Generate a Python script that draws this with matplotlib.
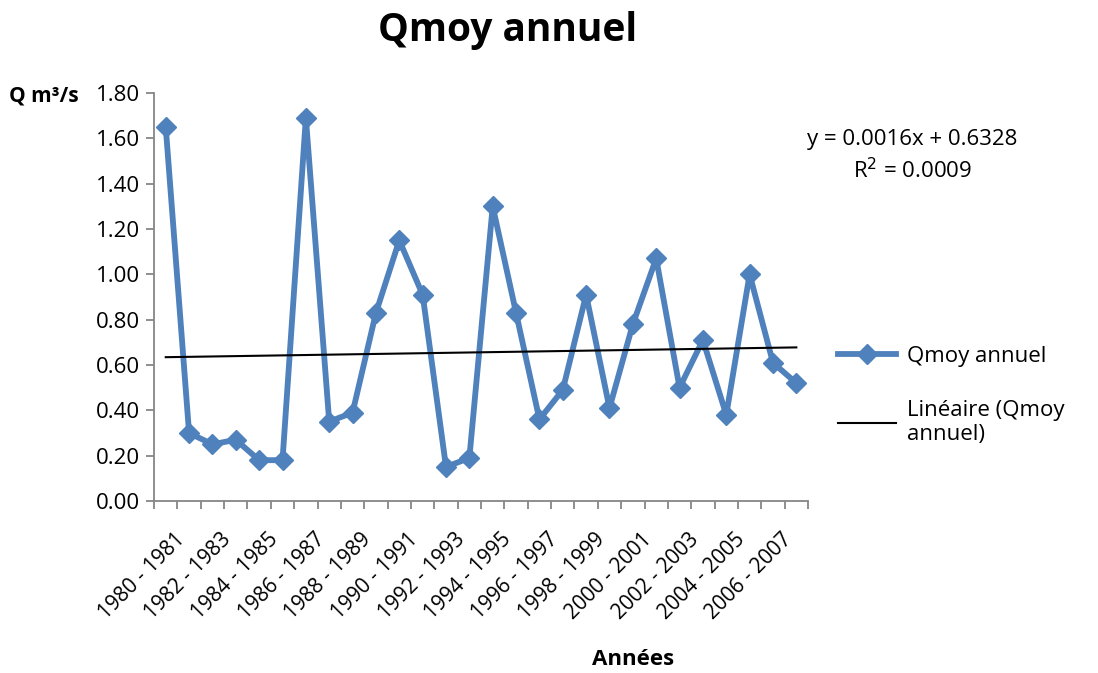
import numpy as np
import matplotlib.pyplot as plt
import matplotlib.transforms as mtransforms

# Data
years = [f"{y} - {y + 1}" for y in range(1980, 2008)]
qmoy = [1.65, 0.30, 0.25, 0.27, 0.18, 0.18, 1.69, 0.35, 0.39, 0.83,
        1.15, 0.91, 0.15, 0.19, 1.30, 0.83, 0.36, 0.49, 0.91, 0.41,
        0.78, 1.07, 0.50, 0.71, 0.38, 1.00, 0.61, 0.52]
trend_slope = 0.0016
trend_intercept = 0.6328
r2 = 0.0009

plt.rcParams['font.family'] = ['Open Sans', 'DejaVu Sans']

fig = plt.figure(figsize=(10.98, 6.73), dpi=100)
ax = fig.add_axes([0.1403, 0.2556, 0.5956, 0.6062])

x = np.arange(1, len(qmoy) + 1)
line_q, = ax.plot(x, qmoy, color='#4F81BD', linewidth=4.2, marker='D',
                  markersize=10, label='Qmoy annuel')
trend = trend_slope * x + trend_intercept
line_t, = ax.plot(x, trend, color='black', linewidth=1.5,
                  label='Linéaire (Qmoy\nannuel)')

# Axes styling (Excel-like)
ax.set_xlim(0.5, len(qmoy) + 0.5)
ax.set_ylim(0, 1.8)
ax.set_yticks(np.arange(0, 1.81, 0.2))
ax.set_yticklabels([f"{v:.2f}" for v in np.arange(0, 1.81, 0.2)], fontsize=16)
for s in ['top', 'right']:
    ax.spines[s].set_visible(False)
for s in ['left', 'bottom']:
    ax.spines[s].set_color('#868686')
    ax.spines[s].set_linewidth(1.3)
ax.tick_params(axis='y', length=6, color='#868686', width=1.3, pad=4)

# category labels (every other) and boundary tick marks
ax.set_xticks(x[::2])
ax.set_xticklabels(years[::2], rotation=45, ha='right', va='top',
                   rotation_mode='anchor', fontsize=15)
ax.tick_params(axis='x', which='major', length=0, pad=20)
offset = mtransforms.ScaledTranslation(6 / 72, 0, fig.dpi_scale_trans)
for lbl in ax.get_xticklabels():
    lbl.set_transform(lbl.get_transform() + offset)
ax.set_xticks(np.arange(0.5, len(qmoy) + 1, 1), minor=True)
ax.tick_params(axis='x', which='minor', length=6, color='#868686', width=1.3)

fig.text(0.462, 0.955, 'Qmoy annuel', fontsize=28, fontweight='bold',
         ha='center', va='center')
fig.text(0.008, 0.858, 'Q m³/s', fontsize=15, fontweight='bold',
         ha='left', va='center')
fig.text(0.577, 0.020, 'Années', fontsize=16, fontweight='bold',
         ha='center', va='center')

fig.text(0.831, 0.792, f'y = {trend_slope:.4f}x + {trend_intercept:.4f}',
         fontsize=16, ha='center', va='center')
fig.text(0.831, 0.747, f'R$^2$ = {r2:.4f}', fontsize=16,
         ha='center', va='center')

fig.legend(handles=[line_q, line_t], loc='center left',
           bbox_to_anchor=(0.745, 0.412), frameon=False, fontsize=16,
           handlelength=2.6, labelspacing=1.5, handletextpad=0.5)

fig.savefig('out.png', dpi=100)
